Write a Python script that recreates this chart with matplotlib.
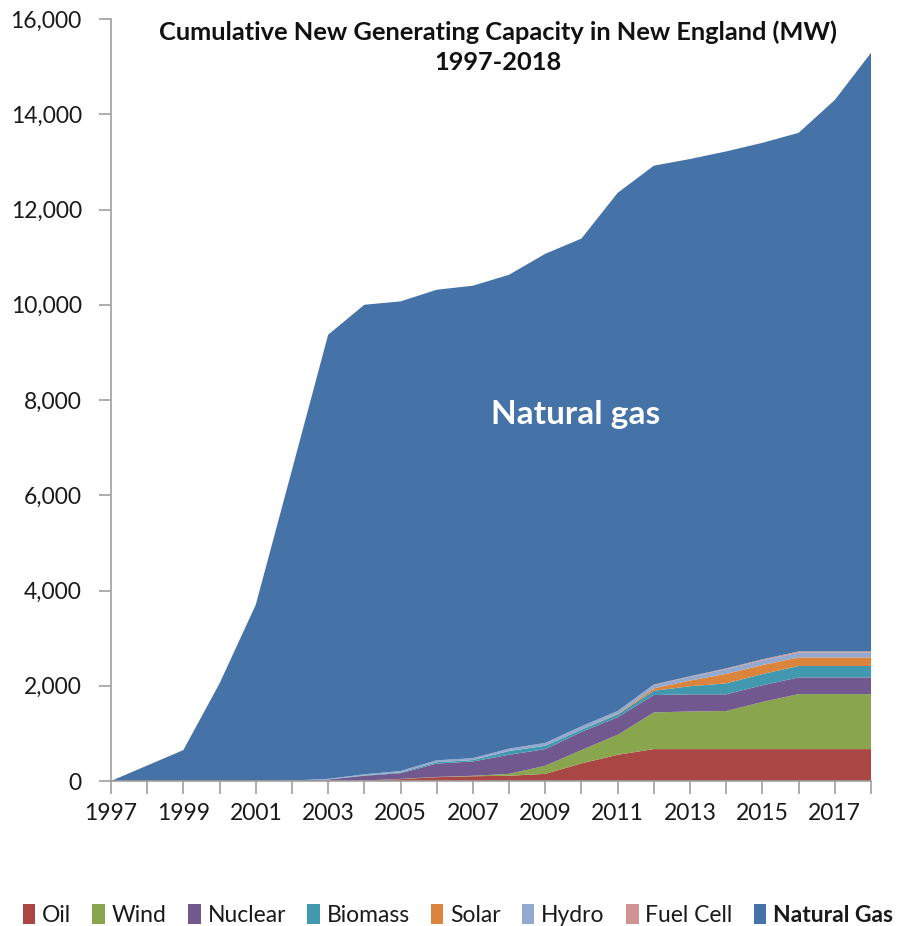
import matplotlib
matplotlib.use("Agg")
import matplotlib.pyplot as plt
import numpy as np

years = list(range(1997, 2019))
oil       = [0, 0, 0, 0, 0, 0, 0, 10, 40, 80, 100, 110, 150, 370, 550, 670, 670, 670, 670, 670, 670, 670]
wind      = [0, 0, 0, 0, 0, 0, 0, 0, 5, 5, 10, 40, 170, 280, 420, 770, 790, 800, 990, 1155, 1155, 1155]
nuclear   = [0, 0, 0, 0, 0, 10, 30, 100, 120, 280, 300, 400, 350, 380, 370, 365, 360, 350, 350, 350, 350, 350]
biomass   = [0, 0, 0, 0, 0, 0, 5, 10, 15, 30, 30, 80, 70, 50, 60, 90, 170, 230, 235, 240, 240, 240]
solar     = [0, 0, 0, 0, 0, 0, 0, 0, 0, 0, 0, 0, 0, 0, 10, 50, 120, 200, 190, 180, 180, 180]
hydro     = [0, 0, 0, 0, 0, 0, 10, 20, 30, 40, 40, 50, 60, 70, 60, 70, 80, 100, 100, 100, 100, 100]
fuel_cell = [0, 0, 0, 0, 0, 0, 0, 0, 0, 0, 0, 0, 0, 0, 0, 10, 10, 15, 20, 25, 25, 25]
total     = [0, 325, 650, 2050, 3700, 6530, 9370, 10000, 10070, 10315, 10400, 10630, 11070,
             11390, 12350, 12920, 13060, 13220, 13400, 13610, 14300, 15290]
natural_gas = [t - (o + w + n + b + s + h + f) for t, o, w, n, b, s, h, f in
               zip(total, oil, wind, nuclear, biomass, solar, hydro, fuel_cell)]

labels = ["Oil", "Wind", "Nuclear", "Biomass", "Solar", "Hydro", "Fuel Cell", "Natural Gas"]
colors = ["#AA4643", "#89A54E", "#71588F", "#4198AF", "#DB843D", "#93A9CF", "#D19392", "#4572A7"]

FONT = "Lato"
fig = plt.figure(figsize=(8.97, 9.26), dpi=100)
ax = fig.add_axes([111 / 897, 1 - 781 / 926, 760 / 897, 762 / 926])

ax.stackplot(years, oil, wind, nuclear, biomass, solar, hydro, fuel_cell, natural_gas,
             colors=colors, labels=labels, linewidth=0)

ax.set_xlim(1997, 2018)
ax.set_ylim(0, 16000)
ax.set_xticks(years)
ax.set_xticklabels([str(y) if (y - 1997) % 2 == 0 else "" for y in years])
ax.set_yticks(range(0, 16001, 2000))
ax.set_yticklabels([f"{v:,}" for v in range(0, 16001, 2000)])

for s in ["top", "right"]:
    ax.spines[s].set_visible(False)
for s in ["left", "bottom"]:
    ax.spines[s].set_color("#A0A0A0")
    ax.spines[s].set_linewidth(1.2)
ax.tick_params(axis="both", colors="#A0A0A0", length=9, width=1.2, direction="out",
               labelcolor="#1a1a1a", labelsize=16.5)
ax.tick_params(axis="y", pad=12)
ax.tick_params(axis="x", pad=7)
for lab in ax.get_xticklabels() + ax.get_yticklabels():
    lab.set_fontfamily(FONT)

fig.text(0.555, 1 - 32 / 926, "Cumulative New Generating Capacity in New England (MW)",
         ha="center", va="center", fontsize=18.3, fontweight="bold", family=FONT, color="#111111")
fig.text(0.555, 1 - 63 / 926, "1997-2018",
         ha="center", va="center", fontsize=18.3, fontweight="bold", family=FONT, color="#111111")

ax.text(2009.85, 7690, "Natural gas", ha="center", va="center", fontsize=24,
        fontweight="bold", family=FONT, color="white")

handles, labs = ax.get_legend_handles_labels()
leg = fig.legend(handles, labs, loc="center", bbox_to_anchor=(458 / 897, 1 - 915 / 926),
                 ncol=8, frameon=False, handlelength=0.55, handleheight=1.0,
                 handletextpad=0.3, columnspacing=0.92, borderaxespad=0,
                 prop={"family": FONT, "size": 16.5})
for t in leg.get_texts():
    t.set_color("#1a1a1a")
    if t.get_text() == "Natural Gas":
        t.set_fontweight("bold")

fig.savefig("out.png", dpi=100)
